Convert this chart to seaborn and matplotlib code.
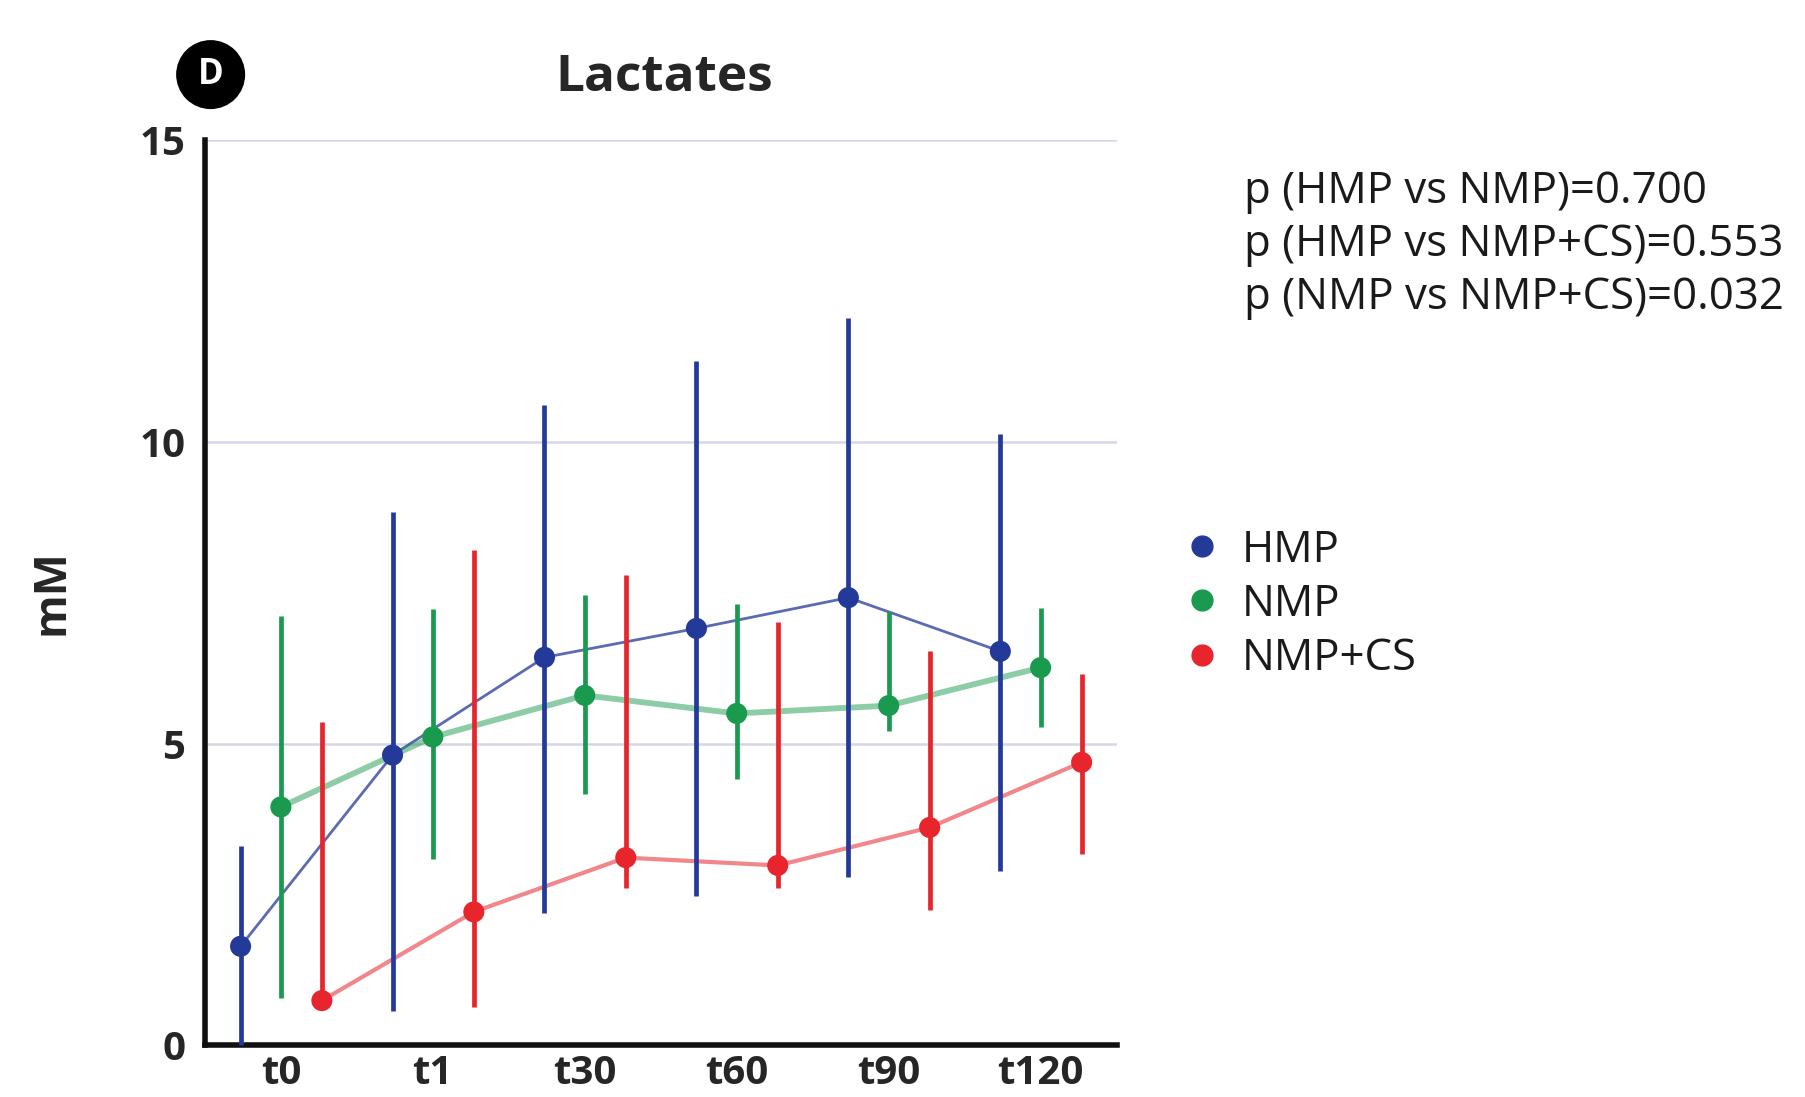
import numpy as np
import pandas as pd
import matplotlib
matplotlib.use("Agg")
import matplotlib.pyplot as plt
import seaborn as sns
from matplotlib.lines import Line2D
from matplotlib.patches import Circle

# ---- data ----
timepoints = ["t0", "t1", "t30", "t60", "t90", "t120"]
groups = ["HMP", "NMP", "NMP+CS"]

hmp_mean = [1.64, 4.81, 6.43, 6.91, 7.42, 6.53]
hmp_low = [0.0, 0.57, 2.19, 2.48, 2.79, 2.88]
hmp_high = [3.30, 8.84, 10.61, 11.35, 12.06, 10.13]

nmp_mean = [3.95, 5.11, 5.80, 5.50, 5.63, 6.26]
nmp_low = [0.78, 3.09, 4.16, 4.41, 5.21, 5.27]
nmp_high = [7.12, 7.23, 7.46, 7.31, 7.19, 7.25]

cs_mean = [0.74, 2.21, 3.11, 2.98, 3.61, 4.69]
cs_low = [0.60, 0.63, 2.60, 2.60, 2.25, 3.17]
cs_high = [5.36, 8.21, 7.79, 7.02, 6.53, 6.16]

p_texts = ["p (HMP vs NMP)=0.700",
           "p (HMP vs NMP+CS)=0.553",
           "p (NMP vs NMP+CS)=0.032"]

yticks = [0, 5, 10, 15]

colors = {"HMP": "#243a98", "NMP": "#1a9a4e", "NMP+CS": "#e8242c"}
offsets = {"HMP": -0.265, "NMP": 0.0, "NMP+CS": 0.27}
line_w = {"HMP": 2.0, "NMP": 4.2, "NMP+CS": 3.0}
line_a = {"HMP": 0.75, "NMP": 0.5, "NMP+CS": 0.55}

series = {
    "HMP": (hmp_mean, hmp_low, hmp_high),
    "NMP": (nmp_mean, nmp_low, nmp_high),
    "NMP+CS": (cs_mean, cs_low, cs_high),
}

rows = []
for g in groups:
    m, lo, hi = series[g]
    for i, t in enumerate(timepoints):
        rows.append(dict(group=g, time=t, pos=i + offsets[g], mean=m[i], low=lo[i], high=hi[i]))
df = pd.DataFrame(rows)

sns.set_theme(style="white")
plt.rcParams["font.family"] = ["Open Sans", "DejaVu Sans"]

fig = plt.figure(figsize=(18.05, 10.97), dpi=100)
ax = fig.add_axes([0.1135, 0.0472, 0.5051, 0.8248])

for g in groups:
    d = df[df.group == g]
    ax.vlines(d["pos"], d["low"], d["high"], color=colors[g], lw=3.4, zorder=3, clip_on=False)
    sns.lineplot(data=d, x="pos", y="mean", color=colors[g], lw=line_w[g], alpha=line_a[g],
                 ax=ax, zorder=2, legend=False, sort=False)
    sns.scatterplot(data=d, x="pos", y="mean", color=colors[g], s=230, edgecolor="none",
                    ax=ax, zorder=4, legend=False, clip_on=False)

ax.set_xlim(-0.5, 5.5)
ax.set_ylim(0, 15)
ax.set_xticks(range(len(timepoints)))
ax.set_xticklabels(timepoints)
ax.set_yticks(yticks)
ax.set_yticklabels([str(v) for v in yticks])
for lab in ax.get_xticklabels() + ax.get_yticklabels():
    lab.set_fontweight("bold")
    lab.set_fontsize(29)
ax.tick_params(axis="x", pad=6, length=0)
ax.tick_params(axis="y", pad=14, length=0)
ax.set_xlabel("")
ax.set_ylabel("")
for v in yticks[1:]:
    ax.axhline(v, color="#d6d6e6", lw=1.8, zorder=0)
for s in ["top", "right"]:
    ax.spines[s].set_visible(False)
for s in ["left", "bottom"]:
    ax.spines[s].set_color("#111111")
    ax.spines[s].set_linewidth(4)

fig.text(0.0287, 0.46, "mM", rotation=90, ha="center", va="center", fontsize=32, fontweight="bold")
fig.text(0.368, 0.929, "Lactates", ha="center", va="center", fontsize=37, fontweight="bold")

circ = Circle((0.1167 * 18.05, 0.932 * 10.97), 0.345, transform=fig.dpi_scale_trans,
              facecolor="black", edgecolor="none")
fig.patches.append(circ)
fig.text(0.1167, 0.932, "D", ha="center", va="center", fontsize=25, fontweight="bold", color="white")

for i, t in enumerate(p_texts):
    fig.text(0.689, 0.825 - i * 0.048, t, ha="left", va="center", fontsize=31.5,
             color="#1a1a1a")

handles = [Line2D([0], [0], marker="o", ls="", color=colors[g], markersize=15) for g in groups]
leg = fig.legend(handles, groups, loc="center left", bbox_to_anchor=(0.631, 0.449), frameon=False,
                 fontsize=31.5, handletextpad=0.35, labelspacing=0.22, handlelength=1.1)
for t in leg.get_texts():
    t.set_color("#1a1a1a")

fig.savefig("out.png", dpi=100)
